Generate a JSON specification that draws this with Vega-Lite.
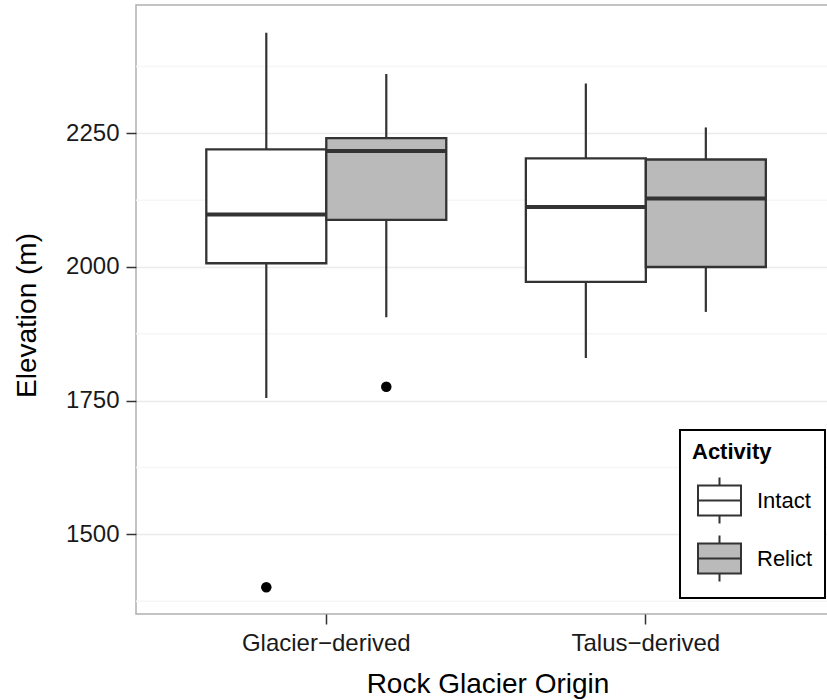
{
  "$schema": "https://vega.github.io/schema/vega-lite/v6.json",
  "width": 703,
  "height": 609,
  "autosize": {"type": "none"},
  "padding": {"left": 136, "top": 5, "right": -12, "bottom": 86},
  "background": "white",
  "datasets": {
    "boxes": [
      {"origin": "Glacier−derived", "activity": "Intact", "lower": 1755, "q1": 2007, "median": 2098, "q3": 2220, "upper": 2438},
      {"origin": "Glacier−derived", "activity": "Relict", "lower": 1906, "q1": 2088, "median": 2217, "q3": 2241, "upper": 2361},
      {"origin": "Talus−derived", "activity": "Intact", "lower": 1830, "q1": 1972, "median": 2112, "q3": 2203, "upper": 2343},
      {"origin": "Talus−derived", "activity": "Relict", "lower": 1916, "q1": 2000, "median": 2128, "q3": 2201, "upper": 2261}
    ],
    "outliers": [
      {"origin": "Glacier−derived", "activity": "Intact", "value": 1401},
      {"origin": "Glacier−derived", "activity": "Relict", "value": 1776}
    ],
    "minor": [{"v": 1375}, {"v": 1625}, {"v": 1875}, {"v": 2125}, {"v": 2375}]
  },
  "layer": [
    {
      "data": {"name": "minor"},
      "mark": {"type": "rule", "color": "#F6F6F6", "strokeWidth": 1.5},
      "encoding": {
        "y": {"field": "v", "type": "quantitative", "title": "Elevation (m)",
              "scale": {"domain": [1351, 2490], "nice": false, "zero": false},
              "axis": {"values": [1500, 1750, 2000, 2250], "format": "d"}}
      }
    },
    {
      "data": {"name": "boxes"},
      "mark": {"type": "rule", "color": "#333333", "strokeWidth": 2.2},
      "encoding": {
        "x": {"field": "origin", "type": "nominal", "title": "Rock Glacier Origin",
              "scale": {"domain": ["Glacier−derived", "Talus−derived"], "paddingInner": 0.249, "paddingOuter": 0.2245, "align": 0.49, "round": false}},
        "xOffset": {"field": "activity", "type": "nominal", "scale": {"domain": ["Intact", "Relict"], "paddingInner": 0, "paddingOuter": 0}},
        "y": {"field": "lower", "type": "quantitative", "title": "Elevation (m)"},
        "y2": {"field": "upper"}
      }
    },
    {
      "data": {"name": "boxes"},
      "mark": {"type": "bar", "stroke": "#333333", "strokeWidth": 2.3, "opacity": 1},
      "encoding": {
        "x": {"field": "origin", "type": "nominal", "title": "Rock Glacier Origin"},
        "xOffset": {"field": "activity", "type": "nominal"},
        "y": {"field": "q1", "type": "quantitative", "title": "Elevation (m)"},
        "y2": {"field": "q3"},
        "fill": {
          "field": "activity", "type": "nominal",
          "scale": {"domain": ["Intact", "Relict"], "range": ["#FFFFFF", "#BABABA"]},
          "legend": {
            "title": "Activity",
            "orient": "none",
            "direction": "vertical",
            "legendX": 544,
            "legendY": 425,
            "symbolType": "M-1,-0.7H1V0.7H-1Z M-1,0H1 M0,-0.7V-1.07 M0,0.7V1.07",
            "symbolSize": 1849,
            "symbolStrokeColor": "#333333",
            "symbolStrokeWidth": 2,
            "symbolOpacity": 1,
            "symbolOffset": 5,
            "labelOffset": 15,
            "rowPadding": 3,
            "padding": 12,
            "titlePadding": 14,
            "strokeColor": "#000000",
            "fillColor": "#FFFFFF"
          }
        }
      }
    },
    {
      "data": {"name": "boxes"},
      "mark": {"type": "tick", "color": "#333333", "thickness": 4, "size": 120, "opacity": 1},
      "encoding": {
        "x": {"field": "origin", "type": "nominal", "title": "Rock Glacier Origin"},
        "xOffset": {"field": "activity", "type": "nominal"},
        "y": {"field": "median", "type": "quantitative", "title": "Elevation (m)"}
      }
    },
    {
      "data": {"name": "outliers"},
      "mark": {"type": "point", "filled": true, "color": "#000000", "size": 110, "opacity": 1},
      "encoding": {
        "x": {"field": "origin", "type": "nominal", "title": "Rock Glacier Origin"},
        "xOffset": {"field": "activity", "type": "nominal"},
        "y": {"field": "value", "type": "quantitative", "title": "Elevation (m)"}
      }
    }
  ],
  "config": {
    "font": "Liberation Sans",
    "view": {"stroke": "#B0B0B0", "strokeWidth": 1.5},
    "axis": {
      "labelFont": "Liberation Sans",
      "titleFont": "Liberation Sans",
      "labelFontSize": 24,
      "titleFontSize": 28,
      "titleFontWeight": "normal",
      "labelColor": "#1A1A1A",
      "titleColor": "#000000",
      "tickColor": "#333333",
      "tickWidth": 1.5,
      "tickSize": 10,
      "domain": false,
      "gridColor": "#EBEBEB",
      "gridWidth": 1.5,
      "labelPadding": 7
    },
    "axisX": {"titleY": 78, "titleBaseline": "alphabetic", "labelAngle": 0},
    "axisY": {"titleX": -101, "titleY": 310, "titleBaseline": "alphabetic", "titleAngle": -90},
    "legend": {
      "titleFont": "Liberation Sans",
      "labelFont": "Liberation Sans",
      "titleFontSize": 22,
      "titleFontWeight": "bold",
      "titleColor": "#000000",
      "labelFontSize": 22,
      "labelColor": "#000000",
      "strokeWidth": 2
    }
  }
}
